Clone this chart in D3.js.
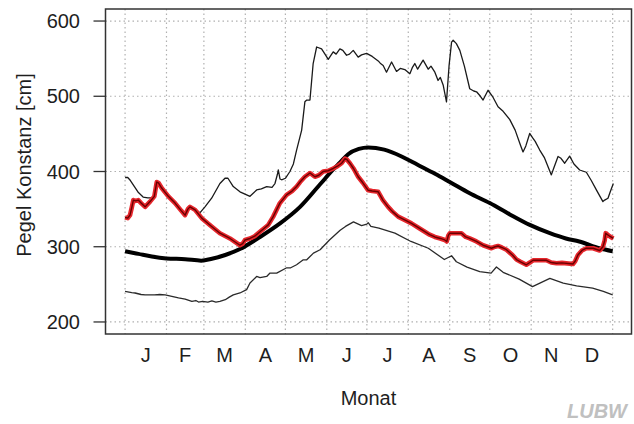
<!DOCTYPE html>
<html>
<head>
<meta charset="utf-8">
<script src="https://cdn.jsdelivr.net/npm/d3@7/dist/d3.min.js"></script>
<style>
  html, body { margin: 0; padding: 0; background: #fff; }
  svg { display: block; }
  text { font-family: "Liberation Sans", Arial, Helvetica, sans-serif; fill: #1e1e1e; }
</style>
</head>
<body>
<svg id="chart" width="634" height="424"></svg>
<script>
// Month labels and month boundaries (day of year)
const monthLabels = ["J", "F", "M", "A", "M", "J", "J", "A", "S", "O", "N", "D"];
const monthStarts = [0, 31, 59, 90, 120, 151, 181, 212, 243, 273, 304, 334, 365];
const yTicks = [200, 300, 400, 500, 600];

// Daily water levels at gauge Konstanz [cm], as [day of year, level]
const maxLevel = [
  [0,392],[2,392],[4,388],[7,380],[10,372],[13.5,366],[17,365],[20,365],[22,368],[23.7,387],
  [27.4,379],[32.4,368],[37.4,359],[44.9,344],[48.6,354],[52.4,350],[56,345],[59.8,353],
  [64.8,364.5],[71,384],[74.8,391],[77,391],[81,380],[86,373],[93.5,367],[98.5,375.5],
  [102,377],[106,380],[110,379],[112.2,384],[114,396],[114.7,402],[116,390],[117.2,389],
  [120,391],[123.4,400],[126,410],[128.4,428.5],[132.2,455],[134.6,492.6],[136,495],
  [138.4,495],[140.8,543.5],[143.4,565.5],[147.1,563],[150,555],[152.1,549],[155.8,559],
  [158,556],[160.8,563],[163,561],[165.8,554.5],[168,556],[170.8,561],[174.5,552],[177,555],
  [180.8,557],[185,553],[189.5,547],[191,544],[193.2,541],[195.7,532],[199.5,545.6],
  [203.2,533],[206,537],[209.4,535.5],[213.2,530],[215,538],[216.9,543.5],[219,536],
  [223.1,548],[226.9,536],[229,540],[231.9,532],[234.3,521],[236,525],[238.1,515],
  [240.6,492.6],[242.5,540],[244.4,572],[245.6,574.4],[248,570],[250.6,561],[254,540],
  [258,510],[261,507],[263.1,506],[266,500],[268,495],[271.7,508],[275,500],[279.2,486],
  [283,480],[288,469],[292,455],[296,435],[297.9,426],[300,434],[302.9,450.6],[305,445],
  [307,440],[310.4,428.5],[314,418],[319.1,395.5],[321,405],[324.1,420],[326,418],
  [329.1,411],[332.8,420.5],[336,410],[340.3,402],[345.3,399],[349,388],[352.8,375.5],
  [357.7,360],[359,362],[361.5,364.5],[363,372],[365.5,384]
];

const meanLevel = [
  [0,294],[10,290.5],[20,287],[31,284.5],[45,283.5],[57,281.5],[65,284],[75,289],[86,297],
  [101,313],[116,331],[131,353],[146,383],[156,403],[161,412],[167,423],[175,430],[182,432],
  [194,429],[207,420],[219,409],[232,397],[244,385],[258,371],[273,358],[288,343],[303,329],
  [318,318],[330,311],[340,307],[355,298],[365,294]
];

const minLevel = [
  [0,240.6],[5,239],[7.5,238.5],[12,236.5],[15,236],[22,236],[26,236.5],[30,236],[35,234],
  [40,232],[45,230.5],[50,227.3],[53,228.5],[55,226.5],[58,227.5],[62,226.5],[65,228],
  [68,226.5],[71,227.3],[75,229.6],[78,233],[81,236],[86,238.5],[91,243],[93.5,251.7],
  [98.5,260.5],[101,259],[106,260.5],[108.5,265],[113.5,265],[121,272],[124,272],
  [128.4,276],[133.4,282.6],[136,282.6],[141,291.5],[146,296],[153,309],[161,322],[165,327],
  [171,333],[177,328],[181,330],[182,332],[184,327],[190,324.6],[202,318],[214,307],
  [227,298],[239,283],[244.4,288],[248,280],[256,273],[265.5,267],[274,265],[278,273],
  [283,266],[295,257],[305,247],[318,258],[328,251.7],[338,248],[350,245],[358,240.6],
  [365,236]
];

const currentLevel = [
  [0,339],[2,338],[3.7,342],[5,352],[6.2,362],[8,361],[9.9,362],[12,358],[15,353],[18.7,360],
  [21.9,367],[23.7,386],[25,385],[27.4,378],[32.4,367],[37.4,358],[42,348],[44.9,342],
  [47,350],[48.6,353],[52.4,349],[57.4,338],[64.8,327],[71,318],[78.5,311],[86,302],[88,304],
  [89.8,309],[93.5,311],[97,314],[101,320],[107.2,329],[110.9,340],[115.9,358],[120.9,369],
  [125,374],[128.4,380],[131,386],[134.6,393],[138.4,398],[142.1,393],[145,395],[148.3,400],
  [152,401],[155.8,404],[159,407],[162.1,411],[164.6,417],[166,416],[168.3,411],[171,404],
  [174.5,393],[178,385],[182,375],[185,374],[189.5,373],[193,362],[196.9,353],[200,347],
  [204.4,340],[210,335],[214.4,331],[219,326],[224.4,320],[228,316],[231.9,313],[236,311],
  [239.3,309],[240.8,307],[242,315],[243.1,318],[251.8,318],[255,313],[258,311],[263,307],
  [268,302],[274.3,298],[277,300],[279.2,301],[282,299],[285.5,296],[290,289],[293,283],
  [296,280],[300.4,276],[303,279],[305.4,282],[315.4,282],[319,279],[322.9,278],[327,278.5],
  [335.3,277],[337,281],[339,289],[342,295],[345.3,298],[350.3,298],[355.3,295],[357.7,300],
  [359,308],[359.8,318],[362.7,314],[365.5,311]
];

const svg = d3.select("#chart");
const frame = { left: 105.5, right: 631.5, top: 9, bottom: 334 };

const x = d3.scaleLinear().domain([-14.65, 379.1]).range([frame.left, frame.right]);
const y = d3.scaleLinear().domain([184, 616]).range([frame.bottom, frame.top]);

// dotted grid
const grid = svg.append("g");
grid.selectAll("line.h").data(yTicks).join("line")
  .attr("x1", frame.left).attr("x2", frame.right)
  .attr("y1", d => y(d)).attr("y2", d => y(d))
  .attr("stroke", "#b0b0b0").attr("stroke-width", 1.2).attr("stroke-dasharray", "1.5,3");
grid.selectAll("line.v").data(monthStarts).join("line")
  .attr("x1", d => x(d)).attr("x2", d => x(d))
  .attr("y1", frame.top).attr("y2", frame.bottom)
  .attr("stroke", "#b0b0b0").attr("stroke-width", 1.2).attr("stroke-dasharray", "1.5,3");

const line = d3.line().x(d => x(d[0])).y(d => y(d[1]));

// minimum and maximum
svg.append("path").datum(minLevel).attr("d", line)
  .attr("fill", "none").attr("stroke", "#2a2a2a").attr("stroke-width", 1.3).attr("stroke-linejoin", "round");
svg.append("path").datum(maxLevel).attr("d", line)
  .attr("fill", "none").attr("stroke", "#1a1a1a").attr("stroke-width", 1.3).attr("stroke-linejoin", "round");

// long-term mean
svg.append("path").datum(meanLevel).attr("d", line.curve(d3.curveMonotoneX))
  .attr("fill", "none").attr("stroke", "#000").attr("stroke-width", 4).attr("stroke-linejoin", "round");
line.curve(d3.curveLinear);

// current year: bright red edge with a dark core
svg.append("path").datum(currentLevel).attr("d", line)
  .attr("fill", "none").attr("stroke", "#e6262c").attr("stroke-width", 4.6).attr("stroke-linejoin", "round");
svg.append("path").datum(currentLevel).attr("d", line)
  .attr("fill", "none").attr("stroke", "#6a0000").attr("stroke-width", 1.4).attr("stroke-linejoin", "round");

// frame
svg.append("rect")
  .attr("x", frame.left).attr("y", frame.top)
  .attr("width", frame.right - frame.left).attr("height", frame.bottom - frame.top)
  .attr("fill", "none").attr("stroke", "#333").attr("stroke-width", 1.5);

// y axis ticks and labels
const yAxis = svg.append("g");
yAxis.selectAll("line").data(yTicks).join("line")
  .attr("x1", frame.left - 12).attr("x2", frame.left)
  .attr("y1", d => y(d)).attr("y2", d => y(d))
  .attr("stroke", "#333").attr("stroke-width", 1.3);
yAxis.selectAll("text").data(yTicks).join("text")
  .attr("x", 80).attr("y", d => y(d)).attr("dy", "0.36em")
  .attr("text-anchor", "end").attr("font-size", 20)
  .text(d => d);

// month labels centred in each month
svg.append("g").selectAll("text").data(monthLabels).join("text")
  .attr("x", (d, i) => x((monthStarts[i] + monthStarts[i + 1]) / 2))
  .attr("y", 362).attr("text-anchor", "middle").attr("font-size", 20)
  .text(d => d);

// axis titles
svg.append("text").attr("x", (frame.left + frame.right) / 2).attr("y", 405)
  .attr("text-anchor", "middle").attr("font-size", 20).text("Monat");
svg.append("text")
  .attr("transform", "translate(31,165) rotate(-90)")
  .attr("text-anchor", "middle").attr("font-size", 20).text("Pegel Konstanz [cm]");

// agency mark
svg.append("text").attr("x", 627).attr("y", 418).attr("text-anchor", "end")
  .attr("font-size", 20).attr("font-weight", "bold").attr("font-style", "italic")
  .style("fill", "#c0c0c0").text("LUBW");
</script>
</body>
</html>
